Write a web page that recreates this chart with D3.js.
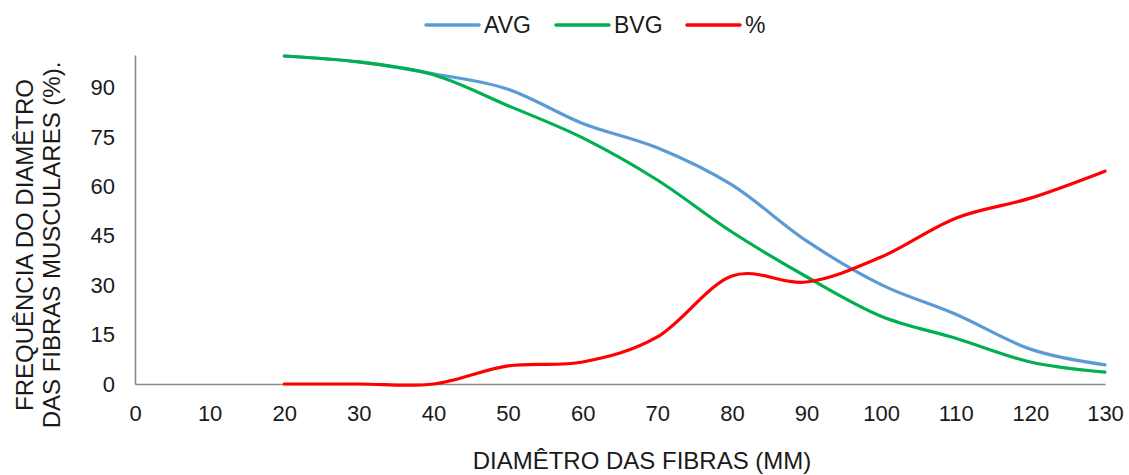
<!DOCTYPE html>
<html>
<head>
<meta charset="utf-8">
<script src="https://cdn.jsdelivr.net/npm/d3@7"></script>
<style>
  html, body { margin: 0; padding: 0; background: #fff; }
  svg { display: block; font-family: "Liberation Sans", Arial, sans-serif; }
</style>
</head>
<body>
<svg id="chart" width="1129" height="475"></svg>
<script>
// Fibre diameter classes (mm)
const diameters = [20, 30, 40, 50, 60, 70, 80, 90, 100, 110, 120, 130];
// Cumulative frequency of fibre diameter (%) per group
const avgValues = [99.7, 97.9, 94.3, 89.6, 79.2, 71.8, 60.5, 43.5, 30.2, 21.2, 10.6, 5.8];
const bvgValues = [99.7, 97.9, 94.0, 84.6, 74.8, 62.0, 46.2, 32.6, 20.6, 13.9, 6.7, 3.6];
const pctValues = [0.0, 0.0, 0.0, 5.5, 6.7, 14.3, 32.8, 31.0, 38.6, 50.4, 56.5, 64.7];

const xTicks = [0, 10, 20, 30, 40, 50, 60, 70, 80, 90, 100, 110, 120, 130];
const yTicks = [0, 15, 30, 45, 60, 75, 90];

const seriesNames = ["AVG", "BVG", "%"];
const seriesColors = ["#5b9bd5", "#00b050", "#ff0000"];
const seriesValues = [avgValues, bvgValues, pctValues];

const svg = d3.select("#chart");

const x = d3.scaleLinear().domain([0, 130]).range([135, 1105]);
const y = d3.scaleLinear().domain([0, 100]).range([384, 55]);

const axisColor = "#898989";
const textColor = "#1a1a1a";

// Axes (lines only, no tick marks)
const xAxis = svg.append("g")
  .attr("transform", `translate(0,${y(0)})`)
  .call(d3.axisBottom(x).tickValues(xTicks).tickSize(0).tickPadding(21).tickFormat(d3.format("d")));
xAxis.select(".domain").attr("stroke", axisColor).attr("stroke-width", 1.6);
xAxis.selectAll("text").attr("font-size", 22).attr("fill", textColor)
  .attr("font-family", "'Liberation Sans', Arial, sans-serif");

const yAxis = svg.append("g")
  .attr("transform", `translate(${x(0)},0)`)
  .call(d3.axisLeft(y).tickValues(yTicks).tickSize(0).tickPadding(20).tickFormat(d3.format("d")));
yAxis.select(".domain").attr("stroke", axisColor).attr("stroke-width", 1.6);
yAxis.selectAll("text").attr("font-size", 22).attr("fill", textColor)
  .attr("font-family", "'Liberation Sans', Arial, sans-serif");

// Smoothed series lines
const line = d3.line()
  .x((d, i) => x(diameters[i]))
  .y(d => y(d))
  .curve(d3.curveCardinal.tension(0));

seriesValues.forEach((vals, i) => {
  svg.append("path")
    .datum(vals)
    .attr("fill", "none")
    .attr("stroke", seriesColors[i])
    .attr("stroke-width", 3.2)
    .attr("stroke-linecap", "round")
    .attr("stroke-linejoin", "round")
    .attr("d", line);
});

// Legend
const legendX = [426, 556, 687];
const legend = svg.append("g");
seriesNames.forEach((name, i) => {
  legend.append("line")
    .attr("x1", legendX[i]).attr("x2", legendX[i] + 53)
    .attr("y1", 25).attr("y2", 25)
    .attr("stroke", seriesColors[i])
    .attr("stroke-width", 3.5)
    .attr("stroke-linecap", "round");
  legend.append("text")
    .attr("x", legendX[i] + 58).attr("y", 33)
    .attr("font-size", 23)
    .attr("fill", textColor)
    .text(name);
});

// Axis titles
svg.append("text")
  .attr("x", 642).attr("y", 469)
  .attr("text-anchor", "middle")
  .attr("font-size", 24)
  .attr("fill", textColor)
  .text("DIAMÊTRO DAS FIBRAS (MM)");

const yTitle = svg.append("text")
  .attr("transform", "rotate(-90)")
  .attr("text-anchor", "middle")
  .attr("font-size", 24)
  .attr("fill", textColor);
yTitle.append("tspan").attr("x", -245).attr("y", 33).text("FREQUÊNCIA DO DIAMÊTRO");
yTitle.append("tspan").attr("x", -245).attr("y", 60).text("DAS FIBRAS MUSCULARES (%).");
</script>
</body>
</html>
